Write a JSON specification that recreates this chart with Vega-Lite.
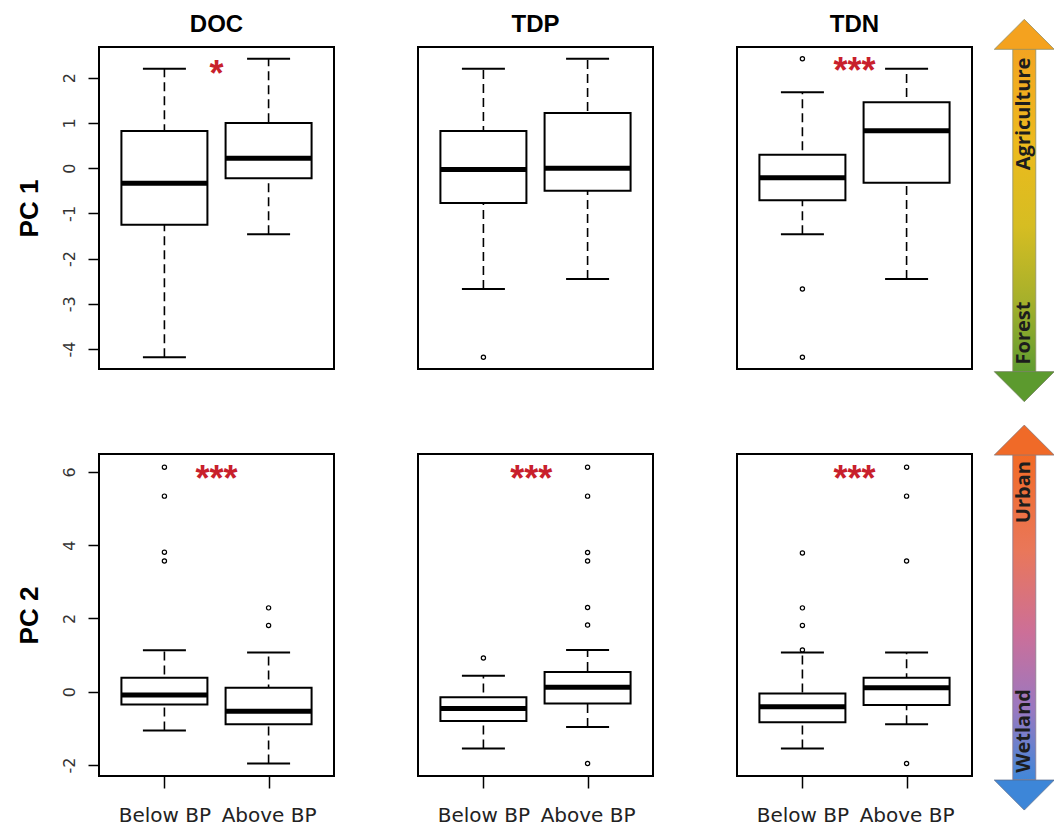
{
"$schema": "https://vega.github.io/schema/vega-lite/v6.json",
"background": "white",
"padding": {"left": 15, "top": 11, "right": 0, "bottom": 0},
"data": {"values": [
{"kind":"box","pc":"PC1","var":"DOC","grp":1,"lo":-4.18,"q1":-1.25,"med":-0.33,"q3":0.82,"hi":2.20},
{"kind":"box","pc":"PC1","var":"DOC","grp":2,"lo":-1.46,"q1":-0.22,"med":0.22,"q3":1.00,"hi":2.42},
{"kind":"box","pc":"PC1","var":"TDP","grp":1,"lo":-2.67,"q1":-0.77,"med":-0.03,"q3":0.82,"hi":2.20},
{"kind":"box","pc":"PC1","var":"TDP","grp":2,"lo":-2.45,"q1":-0.50,"med":0.00,"q3":1.22,"hi":2.42},
{"kind":"box","pc":"PC1","var":"TDN","grp":1,"lo":-1.46,"q1":-0.71,"med":-0.21,"q3":0.30,"hi":1.68},
{"kind":"box","pc":"PC1","var":"TDN","grp":2,"lo":-2.45,"q1":-0.32,"med":0.83,"q3":1.46,"hi":2.20},
{"kind":"box","pc":"PC2","var":"DOC","grp":1,"lo":-1.06,"q1":-0.35,"med":-0.09,"q3":0.38,"hi":1.13},
{"kind":"box","pc":"PC2","var":"DOC","grp":2,"lo":-1.96,"q1":-0.89,"med":-0.53,"q3":0.11,"hi":1.07},
{"kind":"box","pc":"PC2","var":"TDP","grp":1,"lo":-1.55,"q1":-0.80,"med":-0.46,"q3":-0.15,"hi":0.44},
{"kind":"box","pc":"PC2","var":"TDP","grp":2,"lo":-0.96,"q1":-0.32,"med":0.12,"q3":0.54,"hi":1.14},
{"kind":"box","pc":"PC2","var":"TDN","grp":1,"lo":-1.55,"q1":-0.83,"med":-0.41,"q3":-0.05,"hi":1.07},
{"kind":"box","pc":"PC2","var":"TDN","grp":2,"lo":-0.89,"q1":-0.36,"med":0.11,"q3":0.38,"hi":1.07},
{"kind":"out","pc":"PC1","var":"TDP","grp":1,"v":-4.18},
{"kind":"out","pc":"PC1","var":"TDN","grp":1,"v":2.42},
{"kind":"out","pc":"PC1","var":"TDN","grp":1,"v":-2.67},
{"kind":"out","pc":"PC1","var":"TDN","grp":1,"v":-4.18},
{"kind":"out","pc":"PC2","var":"DOC","grp":1,"v":6.13},
{"kind":"out","pc":"PC2","var":"DOC","grp":1,"v":5.34},
{"kind":"out","pc":"PC2","var":"DOC","grp":1,"v":3.81},
{"kind":"out","pc":"PC2","var":"DOC","grp":1,"v":3.57},
{"kind":"out","pc":"PC2","var":"DOC","grp":2,"v":2.29},
{"kind":"out","pc":"PC2","var":"DOC","grp":2,"v":1.81},
{"kind":"out","pc":"PC2","var":"TDP","grp":1,"v":0.92},
{"kind":"out","pc":"PC2","var":"TDP","grp":2,"v":6.13},
{"kind":"out","pc":"PC2","var":"TDP","grp":2,"v":5.34},
{"kind":"out","pc":"PC2","var":"TDP","grp":2,"v":3.80},
{"kind":"out","pc":"PC2","var":"TDP","grp":2,"v":3.57},
{"kind":"out","pc":"PC2","var":"TDP","grp":2,"v":2.30},
{"kind":"out","pc":"PC2","var":"TDP","grp":2,"v":1.82},
{"kind":"out","pc":"PC2","var":"TDP","grp":2,"v":-1.96},
{"kind":"out","pc":"PC2","var":"TDN","grp":1,"v":3.79},
{"kind":"out","pc":"PC2","var":"TDN","grp":1,"v":2.29},
{"kind":"out","pc":"PC2","var":"TDN","grp":1,"v":1.81},
{"kind":"out","pc":"PC2","var":"TDN","grp":1,"v":1.14},
{"kind":"out","pc":"PC2","var":"TDN","grp":2,"v":6.13},
{"kind":"out","pc":"PC2","var":"TDN","grp":2,"v":5.34},
{"kind":"out","pc":"PC2","var":"TDN","grp":2,"v":3.57},
{"kind":"out","pc":"PC2","var":"TDN","grp":2,"v":-1.96},
{"kind":"sig","pc":"PC1","var":"DOC","label":"*"},
{"kind":"sig","pc":"PC1","var":"TDN","label":"***"},
{"kind":"sig","pc":"PC2","var":"DOC","label":"***"},
{"kind":"sig","pc":"PC2","var":"TDP","label":"***"},
{"kind":"sig","pc":"PC2","var":"TDN","label":"***"},
{"kind":"head","pc":"PC1","var":"DOC","label":"DOC"},
{"kind":"head","pc":"PC1","var":"TDP","label":"TDP"},
{"kind":"head","pc":"PC1","var":"TDN","label":"TDN"},
{"kind":"arrow","pc":"PC1","var":"TDN","end":"top","label":"Agriculture"},
{"kind":"arrow","pc":"PC1","var":"TDN","end":"bottom","label":"Forest"},
{"kind":"arrow","pc":"PC2","var":"TDN","end":"top","label":"Urban"},
{"kind":"arrow","pc":"PC2","var":"TDN","end":"bottom","label":"Wetland"}
]},
"columns": 3,
"spacing": {"row": 85, "column": 84},
"bounds": "flush",
"concat": [
{"width":235,"height":322,
 "transform":[{"filter":"datum.pc=='PC1' && datum.var=='DOC'"}],
 "layer":[
  {"transform":[{"filter":"datum.kind=='box'"}],"mark":{"type":"rule","strokeDash":[9,5],"strokeWidth":1.6,"color":"black"},
   "encoding":{"x":{"field":"grp","type":"quantitative","scale":{"domain":[0.42,2.58],"nice":false,"zero":false},"axis":null},
    "y":{"field":"lo","type":"quantitative","scale":{"domain":[-4.44,2.68],"nice":false,"zero":false},"axis":{"values":[-4,-3,-2,-1,0,1,2],"labelExpr":"'' + datum.value"},"title":"PC 1"},"y2":{"field":"hi"}}},
  {"transform":[{"filter":"datum.kind=='box'"},{"fold":["lo","hi"],"as":["capkind","cap"]}],"mark":{"type":"tick","orient":"horizontal","size":43,"thickness":2,"color":"black","opacity":1},
   "encoding":{"x":{"field":"grp","type":"quantitative","scale":{"domain":[0.42,2.58],"nice":false,"zero":false},"axis":null},
    "y":{"field":"cap","type":"quantitative","scale":{"domain":[-4.44,2.68],"nice":false,"zero":false},"axis":{"values":[-4,-3,-2,-1,0,1,2],"labelExpr":"'' + datum.value"},"title":"PC 1"}}},
  {"transform":[{"filter":"datum.kind=='box'"}],"mark":{"type":"bar","orient":"vertical","size":86,"fill":"white","stroke":"black","strokeWidth":2},
   "encoding":{"x":{"field":"grp","type":"quantitative","scale":{"domain":[0.42,2.58],"nice":false,"zero":false},"axis":null},
    "y":{"field":"q1","type":"quantitative","scale":{"domain":[-4.44,2.68],"nice":false,"zero":false},"axis":{"values":[-4,-3,-2,-1,0,1,2],"labelExpr":"'' + datum.value"},"title":"PC 1"},"y2":{"field":"q3"}}},
  {"transform":[{"filter":"datum.kind=='box'"}],"mark":{"type":"tick","orient":"horizontal","size":86,"thickness":5,"color":"black","opacity":1},
   "encoding":{"x":{"field":"grp","type":"quantitative","scale":{"domain":[0.42,2.58],"nice":false,"zero":false},"axis":null},
    "y":{"field":"med","type":"quantitative","scale":{"domain":[-4.44,2.68],"nice":false,"zero":false},"axis":{"values":[-4,-3,-2,-1,0,1,2],"labelExpr":"'' + datum.value"},"title":"PC 1"}}},
  {"transform":[{"filter":"datum.kind=='sig'"}],"mark":{"type":"text","color":"#c8202c","fontSize":36,"fontWeight":"bold","font":"Liberation Sans","baseline":"middle","align":"center","dy":10},
   "encoding":{"x":{"datum":1.5,"type":"quantitative","scale":{"domain":[0.42,2.58],"nice":false,"zero":false},"axis":null},
    "y":{"datum":2.28,"type":"quantitative","scale":{"domain":[-4.44,2.68],"nice":false,"zero":false},"axis":{"values":[-4,-3,-2,-1,0,1,2],"labelExpr":"'' + datum.value"},"title":"PC 1"},"text":{"field":"label"}}},
  {"transform":[{"filter":"datum.kind=='head'"}],"mark":{"type":"text","color":"black","fontSize":24,"fontWeight":"bold","font":"Liberation Sans","baseline":"middle","align":"center"},
   "encoding":{"x":{"datum":1.5,"type":"quantitative","scale":{"domain":[0.42,2.58],"nice":false,"zero":false},"axis":null},
    "y":{"datum":3.17,"type":"quantitative","scale":{"domain":[-4.44,2.68],"nice":false,"zero":false},"axis":{"values":[-4,-3,-2,-1,0,1,2],"labelExpr":"'' + datum.value"},"title":"PC 1"},"text":{"field":"label"}}}
 ]},
{"width":235,"height":322,
 "transform":[{"filter":"datum.pc=='PC1' && datum.var=='TDP'"}],
 "layer":[
  {"transform":[{"filter":"datum.kind=='box'"}],"mark":{"type":"rule","strokeDash":[9,5],"strokeWidth":1.6,"color":"black"},
   "encoding":{"x":{"field":"grp","type":"quantitative","scale":{"domain":[0.42,2.58],"nice":false,"zero":false},"axis":null},
    "y":{"field":"lo","type":"quantitative","scale":{"domain":[-4.44,2.68],"nice":false,"zero":false},"axis":null},"y2":{"field":"hi"}}},
  {"transform":[{"filter":"datum.kind=='box'"},{"fold":["lo","hi"],"as":["capkind","cap"]}],"mark":{"type":"tick","orient":"horizontal","size":43,"thickness":2,"color":"black","opacity":1},
   "encoding":{"x":{"field":"grp","type":"quantitative","scale":{"domain":[0.42,2.58],"nice":false,"zero":false},"axis":null},
    "y":{"field":"cap","type":"quantitative","scale":{"domain":[-4.44,2.68],"nice":false,"zero":false},"axis":null}}},
  {"transform":[{"filter":"datum.kind=='box'"}],"mark":{"type":"bar","orient":"vertical","size":86,"fill":"white","stroke":"black","strokeWidth":2},
   "encoding":{"x":{"field":"grp","type":"quantitative","scale":{"domain":[0.42,2.58],"nice":false,"zero":false},"axis":null},
    "y":{"field":"q1","type":"quantitative","scale":{"domain":[-4.44,2.68],"nice":false,"zero":false},"axis":null},"y2":{"field":"q3"}}},
  {"transform":[{"filter":"datum.kind=='box'"}],"mark":{"type":"tick","orient":"horizontal","size":86,"thickness":5,"color":"black","opacity":1},
   "encoding":{"x":{"field":"grp","type":"quantitative","scale":{"domain":[0.42,2.58],"nice":false,"zero":false},"axis":null},
    "y":{"field":"med","type":"quantitative","scale":{"domain":[-4.44,2.68],"nice":false,"zero":false},"axis":null}}},
  {"transform":[{"filter":"datum.kind=='out'"}],"mark":{"type":"point","shape":"circle","size":18,"strokeWidth":1.2,"color":"black","filled":false,"opacity":1},
   "encoding":{"x":{"field":"grp","type":"quantitative","scale":{"domain":[0.42,2.58],"nice":false,"zero":false},"axis":null},
    "y":{"field":"v","type":"quantitative","scale":{"domain":[-4.44,2.68],"nice":false,"zero":false},"axis":null}}},
  {"transform":[{"filter":"datum.kind=='head'"}],"mark":{"type":"text","color":"black","fontSize":24,"fontWeight":"bold","font":"Liberation Sans","baseline":"middle","align":"center"},
   "encoding":{"x":{"datum":1.5,"type":"quantitative","scale":{"domain":[0.42,2.58],"nice":false,"zero":false},"axis":null},
    "y":{"datum":3.17,"type":"quantitative","scale":{"domain":[-4.44,2.68],"nice":false,"zero":false},"axis":null},"text":{"field":"label"}}}
 ]},
{"width":235,"height":322,
 "transform":[{"filter":"datum.pc=='PC1' && datum.var=='TDN'"}],
 "layer":[
  {"transform":[{"filter":"datum.kind=='box'"}],"mark":{"type":"rule","strokeDash":[9,5],"strokeWidth":1.6,"color":"black"},
   "encoding":{"x":{"field":"grp","type":"quantitative","scale":{"domain":[0.42,2.58],"nice":false,"zero":false},"axis":null},
    "y":{"field":"lo","type":"quantitative","scale":{"domain":[-4.44,2.68],"nice":false,"zero":false},"axis":null},"y2":{"field":"hi"}}},
  {"transform":[{"filter":"datum.kind=='box'"},{"fold":["lo","hi"],"as":["capkind","cap"]}],"mark":{"type":"tick","orient":"horizontal","size":43,"thickness":2,"color":"black","opacity":1},
   "encoding":{"x":{"field":"grp","type":"quantitative","scale":{"domain":[0.42,2.58],"nice":false,"zero":false},"axis":null},
    "y":{"field":"cap","type":"quantitative","scale":{"domain":[-4.44,2.68],"nice":false,"zero":false},"axis":null}}},
  {"transform":[{"filter":"datum.kind=='box'"}],"mark":{"type":"bar","orient":"vertical","size":86,"fill":"white","stroke":"black","strokeWidth":2},
   "encoding":{"x":{"field":"grp","type":"quantitative","scale":{"domain":[0.42,2.58],"nice":false,"zero":false},"axis":null},
    "y":{"field":"q1","type":"quantitative","scale":{"domain":[-4.44,2.68],"nice":false,"zero":false},"axis":null},"y2":{"field":"q3"}}},
  {"transform":[{"filter":"datum.kind=='box'"}],"mark":{"type":"tick","orient":"horizontal","size":86,"thickness":5,"color":"black","opacity":1},
   "encoding":{"x":{"field":"grp","type":"quantitative","scale":{"domain":[0.42,2.58],"nice":false,"zero":false},"axis":null},
    "y":{"field":"med","type":"quantitative","scale":{"domain":[-4.44,2.68],"nice":false,"zero":false},"axis":null}}},
  {"transform":[{"filter":"datum.kind=='out'"}],"mark":{"type":"point","shape":"circle","size":18,"strokeWidth":1.2,"color":"black","filled":false,"opacity":1},
   "encoding":{"x":{"field":"grp","type":"quantitative","scale":{"domain":[0.42,2.58],"nice":false,"zero":false},"axis":null},
    "y":{"field":"v","type":"quantitative","scale":{"domain":[-4.44,2.68],"nice":false,"zero":false},"axis":null}}},
  {"transform":[{"filter":"datum.kind=='sig'"}],"mark":{"type":"text","color":"#c8202c","fontSize":36,"fontWeight":"bold","font":"Liberation Sans","baseline":"middle","align":"center","dy":10},
   "encoding":{"x":{"datum":1.5,"type":"quantitative","scale":{"domain":[0.42,2.58],"nice":false,"zero":false},"axis":null},"y":{"datum":2.34,"type":"quantitative","scale":{"domain":[-4.44,2.68],"nice":false,"zero":false},"axis":null},"text":{"field":"label"}}},
  {"transform":[{"filter":"datum.kind=='head'"}],"mark":{"type":"text","color":"black","fontSize":24,"fontWeight":"bold","font":"Liberation Sans","baseline":"middle","align":"center"},
   "encoding":{"x":{"datum":1.5,"type":"quantitative","scale":{"domain":[0.42,2.58],"nice":false,"zero":false},"axis":null},
    "y":{"datum":3.17,"type":"quantitative","scale":{"domain":[-4.44,2.68],"nice":false,"zero":false},"axis":null},"text":{"field":"label"}}},
  {"transform":[{"filter":"datum.kind=='arrow' && datum.end=='top'"}],"mark":{"type":"bar","orient":"vertical","size":23,"stroke":"#8f8f6a","strokeWidth":0.8,"fill":{"gradient":"linear","x1":0,"y1":0,"x2":0,"y2":1,"stops":[{"offset":0,"color":"#f3a421"},{"offset":0.3,"color":"#ecba1d"},{"offset":0.55,"color":"#d6bd22"},{"offset":0.78,"color":"#a6b02b"},{"offset":1,"color":"#5f9c30"}]}},
   "encoding":{"x":{"datum":3.13,"type":"quantitative","scale":{"domain":[0.42,2.58],"nice":false,"zero":false},"axis":null},"y":{"datum":2.66,"type":"quantitative","scale":{"domain":[-4.44,2.68],"nice":false,"zero":false},"axis":null},"y2":{"datum":-4.5}}},
  {"transform":[{"filter":"datum.kind=='arrow' && datum.end=='top'"}],"mark":{"type":"point","shape":"M0,-0.5L1,0.5L-1,0.5Z","size":3600,"filled":true,"color":"#f4a21f","stroke":"#8f8f6a","strokeWidth":0.8,"opacity":1},
   "encoding":{"x":{"datum":3.13,"type":"quantitative","scale":{"domain":[0.42,2.58],"nice":false,"zero":false},"axis":null},"y":{"datum":2.96,"type":"quantitative","scale":{"domain":[-4.44,2.68],"nice":false,"zero":false},"axis":null}}},
  {"transform":[{"filter":"datum.kind=='arrow' && datum.end=='bottom'"}],"mark":{"type":"point","shape":"M0,0.5L1,-0.5L-1,-0.5Z","size":3600,"filled":true,"color":"#5c9a2e","stroke":"#6f7f5a","strokeWidth":0.8,"opacity":1},
   "encoding":{"x":{"datum":3.13,"type":"quantitative","scale":{"domain":[0.42,2.58],"nice":false,"zero":false},"axis":null},"y":{"datum":-4.83,"type":"quantitative","scale":{"domain":[-4.44,2.68],"nice":false,"zero":false},"axis":null}}},
  {"transform":[{"filter":"datum.kind=='arrow' && datum.end=='top'"}],"mark":{"type":"text","angle":270,"font":"Open Sans","fontSize":20,"fontWeight":"bold","color":"#1d1d1d","align":"center","baseline":"middle"},
   "encoding":{"x":{"datum":3.13,"type":"quantitative","scale":{"domain":[0.42,2.58],"nice":false,"zero":false},"axis":null},"y":{"datum":1.2,"type":"quantitative","scale":{"domain":[-4.44,2.68],"nice":false,"zero":false},"axis":null},"text":{"field":"label"}}},
  {"transform":[{"filter":"datum.kind=='arrow' && datum.end=='bottom'"}],"mark":{"type":"text","angle":270,"font":"Open Sans","fontSize":20,"fontWeight":"bold","color":"#1d1d1d","align":"center","baseline":"middle"},
   "encoding":{"x":{"datum":3.13,"type":"quantitative","scale":{"domain":[0.42,2.58],"nice":false,"zero":false},"axis":null},"y":{"datum":-3.645,"type":"quantitative","scale":{"domain":[-4.44,2.68],"nice":false,"zero":false},"axis":null},"text":{"field":"label"}}}
 ]},
{"width":235,"height":322,
 "transform":[{"filter":"datum.pc=='PC2' && datum.var=='DOC'"}],
 "layer":[
  {"transform":[{"filter":"datum.kind=='box'"}],"mark":{"type":"rule","strokeDash":[9,5],"strokeWidth":1.6,"color":"black"},
   "encoding":{"x":{"field":"grp","type":"quantitative","scale":{"domain":[0.42,2.58],"nice":false,"zero":false},"axis":{"values":[1,2],"labelExpr":"datum.value == 1 ? 'Below BP' : 'Above BP'","title":null}},
    "y":{"field":"lo","type":"quantitative","scale":{"domain":[-2.3,6.49],"nice":false,"zero":false},"axis":{"values":[-2,0,2,4,6],"labelExpr":"'' + datum.value"},"title":"PC 2"},"y2":{"field":"hi"}}},
  {"transform":[{"filter":"datum.kind=='box'"},{"fold":["lo","hi"],"as":["capkind","cap"]}],"mark":{"type":"tick","orient":"horizontal","size":43,"thickness":2,"color":"black","opacity":1},
   "encoding":{"x":{"field":"grp","type":"quantitative","scale":{"domain":[0.42,2.58],"nice":false,"zero":false},"axis":{"values":[1,2],"labelExpr":"datum.value == 1 ? 'Below BP' : 'Above BP'","title":null}},
    "y":{"field":"cap","type":"quantitative","scale":{"domain":[-2.3,6.49],"nice":false,"zero":false},"axis":{"values":[-2,0,2,4,6],"labelExpr":"'' + datum.value"},"title":"PC 2"}}},
  {"transform":[{"filter":"datum.kind=='box'"}],"mark":{"type":"bar","orient":"vertical","size":86,"fill":"white","stroke":"black","strokeWidth":2},
   "encoding":{"x":{"field":"grp","type":"quantitative","scale":{"domain":[0.42,2.58],"nice":false,"zero":false},"axis":{"values":[1,2],"labelExpr":"datum.value == 1 ? 'Below BP' : 'Above BP'","title":null}},
    "y":{"field":"q1","type":"quantitative","scale":{"domain":[-2.3,6.49],"nice":false,"zero":false},"axis":{"values":[-2,0,2,4,6],"labelExpr":"'' + datum.value"},"title":"PC 2"},"y2":{"field":"q3"}}},
  {"transform":[{"filter":"datum.kind=='box'"}],"mark":{"type":"tick","orient":"horizontal","size":86,"thickness":5,"color":"black","opacity":1},
   "encoding":{"x":{"field":"grp","type":"quantitative","scale":{"domain":[0.42,2.58],"nice":false,"zero":false},"axis":{"values":[1,2],"labelExpr":"datum.value == 1 ? 'Below BP' : 'Above BP'","title":null}},
    "y":{"field":"med","type":"quantitative","scale":{"domain":[-2.3,6.49],"nice":false,"zero":false},"axis":{"values":[-2,0,2,4,6],"labelExpr":"'' + datum.value"},"title":"PC 2"}}},
  {"transform":[{"filter":"datum.kind=='out'"}],"mark":{"type":"point","shape":"circle","size":18,"strokeWidth":1.2,"color":"black","filled":false,"opacity":1},
   "encoding":{"x":{"field":"grp","type":"quantitative","scale":{"domain":[0.42,2.58],"nice":false,"zero":false},"axis":{"values":[1,2],"labelExpr":"datum.value == 1 ? 'Below BP' : 'Above BP'","title":null}},
    "y":{"field":"v","type":"quantitative","scale":{"domain":[-2.3,6.49],"nice":false,"zero":false},"axis":{"values":[-2,0,2,4,6],"labelExpr":"'' + datum.value"},"title":"PC 2"}}},
  {"transform":[{"filter":"datum.kind=='sig'"}],"mark":{"type":"text","color":"#c8202c","fontSize":36,"fontWeight":"bold","font":"Liberation Sans","baseline":"middle","align":"center","dy":10},
   "encoding":{"x":{"datum":1.5,"type":"quantitative","scale":{"domain":[0.42,2.58],"nice":false,"zero":false},"axis":{"values":[1,2],"labelExpr":"datum.value == 1 ? 'Below BP' : 'Above BP'","title":null}},
    "y":{"datum":6.05,"type":"quantitative","scale":{"domain":[-2.3,6.49],"nice":false,"zero":false},"axis":{"values":[-2,0,2,4,6],"labelExpr":"'' + datum.value"},"title":"PC 2"},"text":{"field":"label"}}}
 ]},
{"width":235,"height":322,
 "transform":[{"filter":"datum.pc=='PC2' && datum.var=='TDP'"}],
 "layer":[
  {"transform":[{"filter":"datum.kind=='box'"}],"mark":{"type":"rule","strokeDash":[9,5],"strokeWidth":1.6,"color":"black"},
   "encoding":{"x":{"field":"grp","type":"quantitative","scale":{"domain":[0.42,2.58],"nice":false,"zero":false},"axis":{"values":[1,2],"labelExpr":"datum.value == 1 ? 'Below BP' : 'Above BP'","title":null}},
    "y":{"field":"lo","type":"quantitative","scale":{"domain":[-2.3,6.49],"nice":false,"zero":false},"axis":null},"y2":{"field":"hi"}}},
  {"transform":[{"filter":"datum.kind=='box'"},{"fold":["lo","hi"],"as":["capkind","cap"]}],"mark":{"type":"tick","orient":"horizontal","size":43,"thickness":2,"color":"black","opacity":1},
   "encoding":{"x":{"field":"grp","type":"quantitative","scale":{"domain":[0.42,2.58],"nice":false,"zero":false},"axis":{"values":[1,2],"labelExpr":"datum.value == 1 ? 'Below BP' : 'Above BP'","title":null}},
    "y":{"field":"cap","type":"quantitative","scale":{"domain":[-2.3,6.49],"nice":false,"zero":false},"axis":null}}},
  {"transform":[{"filter":"datum.kind=='box'"}],"mark":{"type":"bar","orient":"vertical","size":86,"fill":"white","stroke":"black","strokeWidth":2},
   "encoding":{"x":{"field":"grp","type":"quantitative","scale":{"domain":[0.42,2.58],"nice":false,"zero":false},"axis":{"values":[1,2],"labelExpr":"datum.value == 1 ? 'Below BP' : 'Above BP'","title":null}},
    "y":{"field":"q1","type":"quantitative","scale":{"domain":[-2.3,6.49],"nice":false,"zero":false},"axis":null},"y2":{"field":"q3"}}},
  {"transform":[{"filter":"datum.kind=='box'"}],"mark":{"type":"tick","orient":"horizontal","size":86,"thickness":5,"color":"black","opacity":1},
   "encoding":{"x":{"field":"grp","type":"quantitative","scale":{"domain":[0.42,2.58],"nice":false,"zero":false},"axis":{"values":[1,2],"labelExpr":"datum.value == 1 ? 'Below BP' : 'Above BP'","title":null}},
    "y":{"field":"med","type":"quantitative","scale":{"domain":[-2.3,6.49],"nice":false,"zero":false},"axis":null}}},
  {"transform":[{"filter":"datum.kind=='out'"}],"mark":{"type":"point","shape":"circle","size":18,"strokeWidth":1.2,"color":"black","filled":false,"opacity":1},
   "encoding":{"x":{"field":"grp","type":"quantitative","scale":{"domain":[0.42,2.58],"nice":false,"zero":false},"axis":{"values":[1,2],"labelExpr":"datum.value == 1 ? 'Below BP' : 'Above BP'","title":null}},
    "y":{"field":"v","type":"quantitative","scale":{"domain":[-2.3,6.49],"nice":false,"zero":false},"axis":null}}},
  {"transform":[{"filter":"datum.kind=='sig'"}],"mark":{"type":"text","color":"#c8202c","fontSize":36,"fontWeight":"bold","font":"Liberation Sans","baseline":"middle","align":"center","dy":10},
   "encoding":{"x":{"datum":1.46,"type":"quantitative","scale":{"domain":[0.42,2.58],"nice":false,"zero":false},"axis":{"values":[1,2],"labelExpr":"datum.value == 1 ? 'Below BP' : 'Above BP'","title":null}},
    "y":{"datum":6.05,"type":"quantitative","scale":{"domain":[-2.3,6.49],"nice":false,"zero":false},"axis":null},"text":{"field":"label"}}}
 ]},
{"width":235,"height":322,
 "transform":[{"filter":"datum.pc=='PC2' && datum.var=='TDN'"}],
 "layer":[
  {"transform":[{"filter":"datum.kind=='box'"}],"mark":{"type":"rule","strokeDash":[9,5],"strokeWidth":1.6,"color":"black"},
   "encoding":{"x":{"field":"grp","type":"quantitative","scale":{"domain":[0.42,2.58],"nice":false,"zero":false},"axis":{"values":[1,2],"labelExpr":"datum.value == 1 ? 'Below BP' : 'Above BP'","title":null}},
    "y":{"field":"lo","type":"quantitative","scale":{"domain":[-2.3,6.49],"nice":false,"zero":false},"axis":null},"y2":{"field":"hi"}}},
  {"transform":[{"filter":"datum.kind=='box'"},{"fold":["lo","hi"],"as":["capkind","cap"]}],"mark":{"type":"tick","orient":"horizontal","size":43,"thickness":2,"color":"black","opacity":1},
   "encoding":{"x":{"field":"grp","type":"quantitative","scale":{"domain":[0.42,2.58],"nice":false,"zero":false},"axis":{"values":[1,2],"labelExpr":"datum.value == 1 ? 'Below BP' : 'Above BP'","title":null}},
    "y":{"field":"cap","type":"quantitative","scale":{"domain":[-2.3,6.49],"nice":false,"zero":false},"axis":null}}},
  {"transform":[{"filter":"datum.kind=='box'"}],"mark":{"type":"bar","orient":"vertical","size":86,"fill":"white","stroke":"black","strokeWidth":2},
   "encoding":{"x":{"field":"grp","type":"quantitative","scale":{"domain":[0.42,2.58],"nice":false,"zero":false},"axis":{"values":[1,2],"labelExpr":"datum.value == 1 ? 'Below BP' : 'Above BP'","title":null}},
    "y":{"field":"q1","type":"quantitative","scale":{"domain":[-2.3,6.49],"nice":false,"zero":false},"axis":null},"y2":{"field":"q3"}}},
  {"transform":[{"filter":"datum.kind=='box'"}],"mark":{"type":"tick","orient":"horizontal","size":86,"thickness":5,"color":"black","opacity":1},
   "encoding":{"x":{"field":"grp","type":"quantitative","scale":{"domain":[0.42,2.58],"nice":false,"zero":false},"axis":{"values":[1,2],"labelExpr":"datum.value == 1 ? 'Below BP' : 'Above BP'","title":null}},
    "y":{"field":"med","type":"quantitative","scale":{"domain":[-2.3,6.49],"nice":false,"zero":false},"axis":null}}},
  {"transform":[{"filter":"datum.kind=='out'"}],"mark":{"type":"point","shape":"circle","size":18,"strokeWidth":1.2,"color":"black","filled":false,"opacity":1},
   "encoding":{"x":{"field":"grp","type":"quantitative","scale":{"domain":[0.42,2.58],"nice":false,"zero":false},"axis":{"values":[1,2],"labelExpr":"datum.value == 1 ? 'Below BP' : 'Above BP'","title":null}},
    "y":{"field":"v","type":"quantitative","scale":{"domain":[-2.3,6.49],"nice":false,"zero":false},"axis":null}}},
  {"transform":[{"filter":"datum.kind=='sig'"}],"mark":{"type":"text","color":"#c8202c","fontSize":36,"fontWeight":"bold","font":"Liberation Sans","baseline":"middle","align":"center","dy":10},
   "encoding":{"x":{"datum":1.5,"type":"quantitative","scale":{"domain":[0.42,2.58],"nice":false,"zero":false},"axis":{"values":[1,2],"labelExpr":"datum.value == 1 ? 'Below BP' : 'Above BP'","title":null}},
    "y":{"datum":6.05,"type":"quantitative","scale":{"domain":[-2.3,6.49],"nice":false,"zero":false},"axis":null},"text":{"field":"label"}}},
  {"transform":[{"filter":"datum.kind=='arrow' && datum.end=='top'"}],"mark":{"type":"bar","orient":"vertical","size":23,"stroke":"#8a7a8a","strokeWidth":0.8,"fill":{"gradient":"linear","x1":0,"y1":0,"x2":0,"y2":1,"stops":[{"offset":0,"color":"#f26a25"},{"offset":0.3,"color":"#e9775a"},{"offset":0.55,"color":"#cc6f98"},{"offset":0.78,"color":"#9b78c0"},{"offset":1,"color":"#4187d8"}]}},
   "encoding":{"x":{"datum":3.13,"type":"quantitative","scale":{"domain":[0.42,2.58],"nice":false,"zero":false},"axis":{"values":[1,2],"labelExpr":"datum.value == 1 ? 'Below BP' : 'Above BP'","title":null}},"y":{"datum":6.52,"type":"quantitative","scale":{"domain":[-2.3,6.49],"nice":false,"zero":false},"axis":null},"y2":{"datum":-2.4}}},
  {"transform":[{"filter":"datum.kind=='arrow' && datum.end=='top'"}],"mark":{"type":"point","shape":"M0,-0.5L1,0.5L-1,0.5Z","size":3600,"filled":true,"color":"#f06a28","stroke":"#8a7a7a","strokeWidth":0.8,"opacity":1},
   "encoding":{"x":{"datum":3.13,"type":"quantitative","scale":{"domain":[0.42,2.58],"nice":false,"zero":false},"axis":{"values":[1,2],"labelExpr":"datum.value == 1 ? 'Below BP' : 'Above BP'","title":null}},"y":{"datum":6.87,"type":"quantitative","scale":{"domain":[-2.3,6.49],"nice":false,"zero":false},"axis":null}}},
  {"transform":[{"filter":"datum.kind=='arrow' && datum.end=='bottom'"}],"mark":{"type":"point","shape":"M0,0.5L1,-0.5L-1,-0.5Z","size":3600,"filled":true,"color":"#3d86d8","stroke":"#5a6f8f","strokeWidth":0.8,"opacity":1},
   "encoding":{"x":{"datum":3.13,"type":"quantitative","scale":{"domain":[0.42,2.58],"nice":false,"zero":false},"axis":{"values":[1,2],"labelExpr":"datum.value == 1 ? 'Below BP' : 'Above BP'","title":null}},"y":{"datum":-2.82,"type":"quantitative","scale":{"domain":[-2.3,6.49],"nice":false,"zero":false},"axis":null}}},
  {"transform":[{"filter":"datum.kind=='arrow' && datum.end=='top'"}],"mark":{"type":"text","angle":270,"font":"Open Sans","fontSize":20,"fontWeight":"bold","color":"#1d1d1d","align":"center","baseline":"middle"},
   "encoding":{"x":{"datum":3.13,"type":"quantitative","scale":{"domain":[0.42,2.58],"nice":false,"zero":false},"axis":{"values":[1,2],"labelExpr":"datum.value == 1 ? 'Below BP' : 'Above BP'","title":null}},"y":{"datum":5.45,"type":"quantitative","scale":{"domain":[-2.3,6.49],"nice":false,"zero":false},"axis":null},"text":{"field":"label"}}},
  {"transform":[{"filter":"datum.kind=='arrow' && datum.end=='bottom'"}],"mark":{"type":"text","angle":270,"font":"Open Sans","fontSize":20,"fontWeight":"bold","color":"#1d1d1d","align":"center","baseline":"middle"},
   "encoding":{"x":{"datum":3.13,"type":"quantitative","scale":{"domain":[0.42,2.58],"nice":false,"zero":false},"axis":{"values":[1,2],"labelExpr":"datum.value == 1 ? 'Below BP' : 'Above BP'","title":null}},"y":{"datum":-1.07,"type":"quantitative","scale":{"domain":[-2.3,6.49],"nice":false,"zero":false},"axis":null},"text":{"field":"label"}}}
 ]}
],
"config": {
 "view": {"stroke": "black", "strokeWidth": 2, "fill": "white"},
 "axisY": {"labelAngle": 270, "labelFont": "DejaVu Sans", "labelFontSize": 16, "labelColor": "#333333", "tickSize": 11, "tickWidth": 1.5, "tickColor": "black", "domain": false, "grid": false, "labelPadding": 11, "titleFont": "Liberation Sans", "titleFontSize": 26, "titleFontWeight": "bold", "titleColor": "black", "titlePadding": 19},
 "axisX": {"labelFont": "DejaVu Sans", "labelFontSize": 20, "labelColor": "#222222", "tickSize": 12, "tickWidth": 1.5, "tickColor": "black", "domain": false, "grid": false, "labelPadding": 17, "labelAngle": 0}
}
}
